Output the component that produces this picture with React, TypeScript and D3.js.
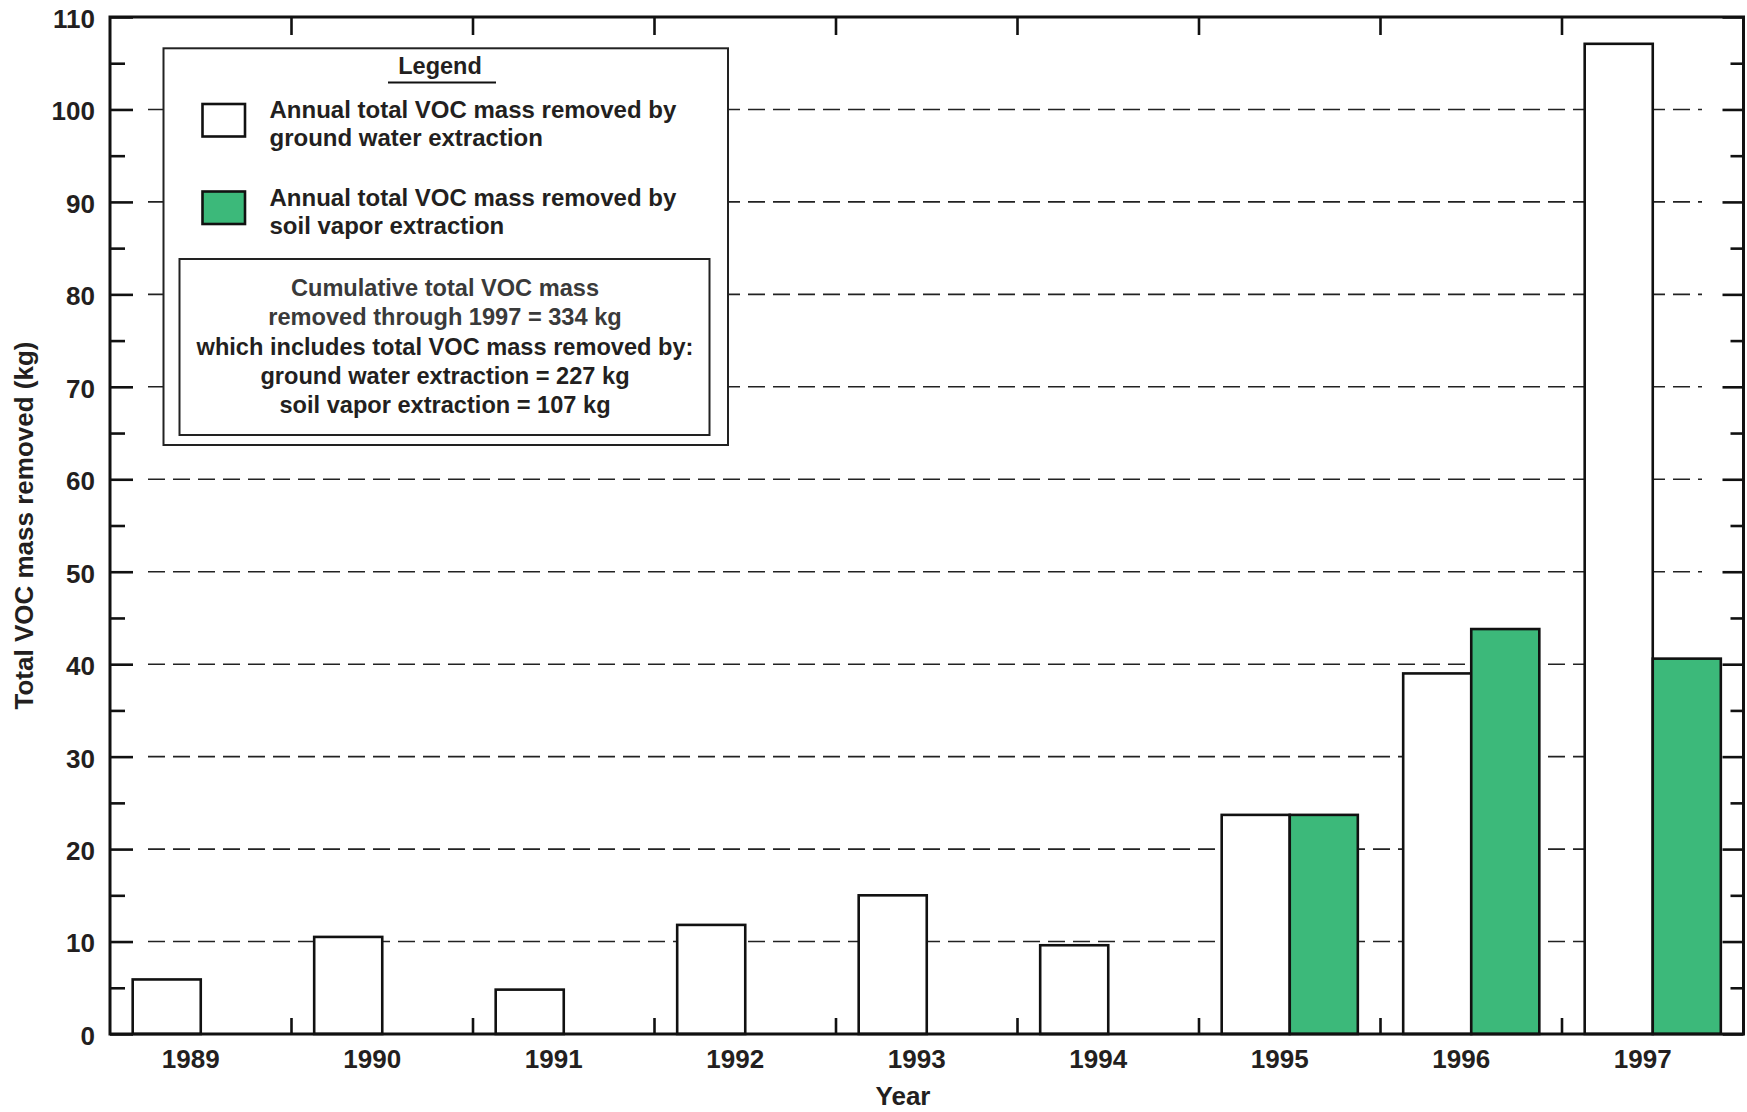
import React, { useEffect, useRef } from 'react';
import * as d3 from 'd3';

// values (kg)
const years = ['1989', '1990', '1991', '1992', '1993', '1994', '1995', '1996', '1997'];
const groundWater = [5.9, 10.5, 4.8, 11.8, 15.0, 9.6, 23.7, 39.0, 107.1];
const soilVapor = [null, null, null, null, null, null, 23.7, 43.8, 40.6];
const seriesKeys = ['gw', 'sv'];
const majorTicks = [0, 10, 20, 30, 40, 50, 60, 70, 80, 90, 100, 110];
const minorTicks = [5, 15, 25, 35, 45, 55, 65, 75, 85, 95, 105];
const gridTicks = [10, 20, 30, 40, 50, 60, 70, 80, 90, 100];

const legendTitle = 'Legend';
const legendItems = [
  ['Annual total VOC mass removed by', 'ground water extraction'],
  ['Annual total VOC mass removed by', 'soil vapor extraction'],
];
const summaryLines = [
  'Cumulative total VOC mass',
  'removed through 1997 = 334 kg',
  'which includes total VOC mass removed by:',
  'ground water extraction = 227 kg',
  'soil vapor extraction = 107 kg',
];

const GREEN = '#3cb97a';
const INK = '#231f20';
const FONT = '"Liberation Sans", Arial, Helvetica, sans-serif';

export default function App() {
  const ref = useRef<SVGSVGElement>(null);

  useEffect(() => {
    const width = 1747;
    const height = 1112;
    const left = 110;
    const right = 1743.5;
    const top = 17;
    const bottom = 1034;

    const svg = d3.select(ref.current);
    svg.selectAll('*').remove();
    svg.attr('width', width).attr('height', height);

    const x0 = d3.scaleBand().domain(years).range([left, right]).padding(0);
    const x1 = d3
      .scaleBand()
      .domain(seriesKeys)
      .range([0, x0.bandwidth()])
      .paddingInner(0)
      .paddingOuter(1 / 3);
    const y = d3.scaleLinear().domain([0, 110]).range([bottom, top]);

    // dashed grid
    svg
      .append('g')
      .selectAll('line')
      .data(gridTicks)
      .enter()
      .append('line')
      .attr('x1', 148)
      .attr('x2', 1702)
      .attr('y1', d => y(d))
      .attr('y2', d => y(d))
      .attr('stroke', '#222')
      .attr('stroke-width', 1.6)
      .attr('stroke-dasharray', '17,8');

    // bars
    const rows = years.map((yr, i) => ({ year: yr, gw: groundWater[i], sv: soilVapor[i] }));
    const groups = svg
      .append('g')
      .selectAll('g')
      .data(rows)
      .enter()
      .append('g')
      .attr('transform', d => `translate(${x0(d.year)},0)`);

    groups
      .selectAll('rect')
      .data(d => seriesKeys.map(k => ({ key: k, value: (d as any)[k] })).filter(v => v.value != null))
      .enter()
      .append('rect')
      .attr('x', d => x1(d.key) as number)
      .attr('y', d => y(d.value))
      .attr('width', x1.bandwidth())
      .attr('height', d => y(0) - y(d.value))
      .attr('fill', d => (d.key === 'gw' ? '#fff' : GREEN))
      .attr('stroke', '#111')
      .attr('stroke-width', 2.6);

    // legend
    const lg = svg.append('g').style('font-family', FONT).style('font-weight', 'bold').attr('fill', INK);
    lg.append('rect')
      .attr('x', 163.5)
      .attr('y', 48.3)
      .attr('width', 564.5)
      .attr('height', 396.7)
      .attr('fill', '#fff')
      .attr('stroke', '#222')
      .attr('stroke-width', 2);
    lg.append('text')
      .attr('x', 440)
      .attr('y', 73.5)
      .attr('text-anchor', 'middle')
      .style('font-size', '23.5px')
      .text(legendTitle);
    lg.append('line')
      .attr('x1', 388)
      .attr('x2', 496)
      .attr('y1', 82.5)
      .attr('y2', 82.5)
      .attr('stroke', '#111')
      .attr('stroke-width', 2);

    const itemY = [104, 191.5];
    legendItems.forEach((lines, i) => {
      lg.append('rect')
        .attr('x', 202.5)
        .attr('y', itemY[i])
        .attr('width', 42.5)
        .attr('height', 32.5)
        .attr('fill', i === 0 ? '#fff' : GREEN)
        .attr('stroke', '#111')
        .attr('stroke-width', 2.6);
      lines.forEach((t, j) => {
        lg.append('text')
          .attr('x', 269.5)
          .attr('y', itemY[i] + 14.3 + j * 28)
          .style('font-size', '24px')
          .text(t);
      });
    });

    lg.append('rect')
      .attr('x', 179.5)
      .attr('y', 259)
      .attr('width', 530)
      .attr('height', 176)
      .attr('fill', 'none')
      .attr('stroke', '#222')
      .attr('stroke-width', 2);
    summaryLines.forEach((t, i) => {
      lg.append('text')
        .attr('x', 445)
        .attr('y', 296 + i * 29.3)
        .attr('text-anchor', 'middle')
        .attr('fill', i < 2 ? '#3a3a3a' : INK)
        .style('font-size', '23.6px')
        .text(t);
    });

    // frame
    svg
      .append('rect')
      .attr('x', left)
      .attr('y', top)
      .attr('width', right - left)
      .attr('height', bottom - top)
      .attr('fill', 'none')
      .attr('stroke', '#111')
      .attr('stroke-width', 3);

    const styleAxis = (g: any) => {
      g.select('.domain').remove();
      g.selectAll('line').attr('stroke', '#111').attr('stroke-width', 2.6);
      g.selectAll('text')
        .attr('fill', INK)
        .style('font-family', FONT)
        .style('font-weight', 'bold')
        .style('font-size', '26px');
    };

    // y axis left
    svg
      .append('g')
      .attr('transform', `translate(${left},0)`)
      .call(d3.axisLeft(y).tickValues(majorTicks).tickSize(-23).tickPadding(15).tickFormat(d3.format('d')) as any)
      .call(styleAxis)
      .selectAll('text')
      .attr('dy', '0.4em');
    svg
      .append('g')
      .attr('transform', `translate(${left},0)`)
      .call(d3.axisLeft(y).tickValues(minorTicks).tickSize(-15).tickFormat(() => '') as any)
      .call(styleAxis);

    // y axis right
    svg
      .append('g')
      .attr('transform', `translate(${right},0)`)
      .call(d3.axisRight(y).tickValues(majorTicks).tickSize(-21).tickFormat(() => '') as any)
      .call(styleAxis);
    svg
      .append('g')
      .attr('transform', `translate(${right},0)`)
      .call(d3.axisRight(y).tickValues(minorTicks).tickSize(-13).tickFormat(() => '') as any)
      .call(styleAxis);

    // x axis labels
    svg
      .append('g')
      .attr('transform', `translate(0,${bottom})`)
      .call(d3.axisBottom(x0).tickSize(0).tickPadding(15.8) as any)
      .call(styleAxis)
      .selectAll('text')
      .attr('x', -10);

    // category boundary ticks, bottom and top
    const bounds = years.slice(1).map(d => x0(d) as number);
    svg
      .append('g')
      .selectAll('line')
      .data(bounds)
      .enter()
      .append('line')
      .attr('x1', d => d)
      .attr('x2', d => d)
      .attr('y1', bottom)
      .attr('y2', bottom - 16)
      .attr('stroke', '#111')
      .attr('stroke-width', 2.6);
    svg
      .append('g')
      .selectAll('line')
      .data(bounds)
      .enter()
      .append('line')
      .attr('x1', d => d)
      .attr('x2', d => d)
      .attr('y1', top)
      .attr('y2', top + 18)
      .attr('stroke', '#111')
      .attr('stroke-width', 2.6);

    // titles
    svg
      .append('text')
      .attr('x', 903)
      .attr('y', 1105)
      .attr('text-anchor', 'middle')
      .attr('fill', INK)
      .style('font-family', FONT)
      .style('font-weight', 'bold')
      .style('font-size', '26px')
      .text('Year');
    svg
      .append('text')
      .attr('transform', `translate(33,${(top + bottom) / 2}) rotate(-90)`)
      .attr('text-anchor', 'middle')
      .attr('fill', INK)
      .style('font-family', FONT)
      .style('font-weight', 'bold')
      .style('font-size', '26px')
      .text('Total VOC mass removed (kg)');
  }, []);

  return (
    <div style={{ position: 'absolute', left: 0, top: 0, background: '#fff' }}>
      <svg ref={ref} style={{ display: 'block' }} />
    </div>
  );
}
